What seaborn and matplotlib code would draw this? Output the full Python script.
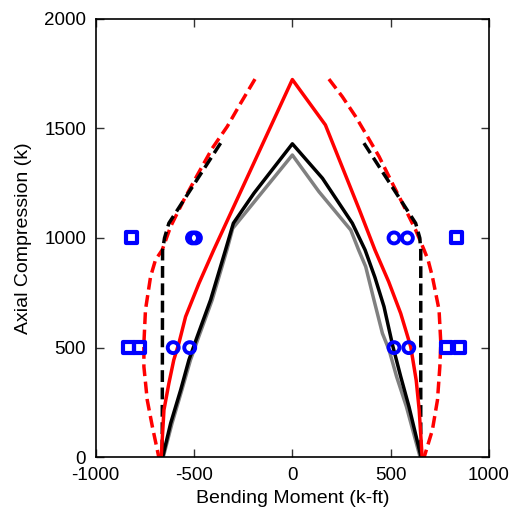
import numpy as np
import pandas as pd
import matplotlib
matplotlib.use("Agg")
import matplotlib.pyplot as plt
import seaborn as sns

# ---- data (k-ft, k) ----
red_solid_x = [-667, -653, -628, -603, -577, -543, -475, -400, 0,
               168, 340, 420, 490, 551, 602, 630, 645, 660]
red_solid_y = [0, 216, 337, 444, 520, 641, 793, 945, 1722,
               1515, 1130, 945, 800, 656, 504, 350, 216, 0]

black_solid_x = [-660, -619, -568, -526, -484, -416, -340, -300, -195, 0,
                 153, 305, 370, 420, 466, 510, 551, 593, 655]
black_solid_y = [0, 155, 307, 444, 550, 717, 945, 1067, 1204, 1429,
                 1272, 1067, 945, 820, 687, 510, 368, 231, 0]

gray_solid_x = [-657, -612, -562, -518, -476, -408, -333, -303, 0,
                135, 297, 337, 373, 415, 458, 492, 530, 580, 650]
gray_solid_y = [0, 155, 307, 444, 550, 717, 945, 1044, 1378,
                1211, 1036, 945, 869, 717, 565, 489, 368, 231, 0]

red_dash_left_x = [-190, -263, -331, -407, -483, -552, -619, -662, -696,
                   -721, -747, -755, -755, -738, -712, -679]
red_dash_left_y = [1724, 1614, 1508, 1409, 1287, 1173, 1052, 945, 900,
                   824, 672, 520, 413, 261, 140, 0]
red_dash_right_x = [186, 254, 322, 382, 441, 500, 560, 627, 670, 690,
                    712, 746, 755, 750, 738, 712, 670]
red_dash_right_y = [1724, 1644, 1553, 1462, 1371, 1264, 1158, 1036, 945, 900,
                    824, 672, 520, 413, 261, 124, 0]

black_dash_left_x = [-365, -628, -650, -660, -662]
black_dash_left_y = [1432, 1067, 1000, 945, 0]
black_dash_right_x = [364, 627, 648, 653, 653]
black_dash_right_y = [1432, 1067, 1000, 945, 0]

circle_x = [-508, -493, 517, 585, -606, -522, 517, 592]
circle_y = [1000, 1000, 1000, 1000, 500, 500, 500, 500]
square_x = [-818, 836, -833, -777, 782, 852]
square_y = [1000, 1000, 500, 500, 500, 500]

x_ticks = [-1000, -500, 0, 500, 1000]
y_ticks = [0, 500, 1000, 1500, 2000]

# ---- style ----
sns.set_style("ticks")
plt.rcParams['font.family'] = ['Liberation Sans', 'DejaVu Sans']
plt.rcParams['axes.unicode_minus'] = False
plt.rcParams['lines.dashed_pattern'] = [3.4, 1.6]

fig = plt.figure(figsize=(5.13, 5.15), dpi=100)
ax = fig.add_axes([0.1866, 0.112, 0.7666, 0.852])

lw = 2.5

def draw(xs, ys, color, ls='-'):
    df = pd.DataFrame({'x': xs, 'y': ys})
    sns.lineplot(data=df, x='x', y='y', sort=False, estimator=None,
                 color=color, linewidth=lw, linestyle=ls, ax=ax)

draw(red_dash_left_x, red_dash_left_y, '#ff0000', '--')
draw(red_dash_right_x, red_dash_right_y, '#ff0000', '--')
draw(black_dash_left_x, black_dash_left_y, '#000000', '--')
draw(black_dash_right_x, black_dash_right_y, '#000000', '--')
draw(gray_solid_x, gray_solid_y, '#808080')
draw(black_solid_x, black_solid_y, '#000000')
draw(red_solid_x, red_solid_y, '#ff0000')

sns.scatterplot(x=circle_x, y=circle_y, marker='o', s=62,
                facecolors='none', edgecolor='#0000ff', linewidth=2.8, ax=ax, zorder=5)
sns.scatterplot(x=square_x, y=square_y, marker='s', s=64,
                facecolors='none', edgecolor='#0000ff', linewidth=3.0, ax=ax, zorder=5)

ax.set_xlim(-1000, 1000)
ax.set_ylim(0, 2000)
ax.set_xticks(x_ticks)
ax.set_yticks(y_ticks)
ax.tick_params(direction='in', top=True, right=True, length=6, width=1,
               labelsize=13.5, pad=7, color='#333333', labelcolor='black')
for sp in ax.spines.values():
    sp.set_linewidth(1.2)
    sp.set_color('black')
ax.set_xlabel('Bending Moment (k-ft)', fontsize=14, labelpad=4, color='black')
ax.set_ylabel('Axial Compression (k)', fontsize=14, labelpad=9, color='black')

fig.savefig('out.png', dpi=100)
